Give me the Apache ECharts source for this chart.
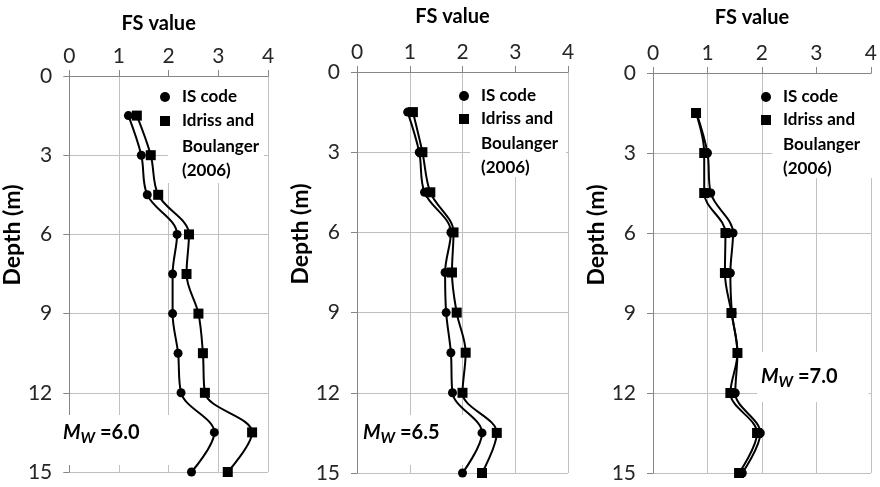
<!DOCTYPE html>
<html><head><meta charset="utf-8">
<script src="https://cdn.jsdelivr.net/npm/echarts@6/dist/echarts.min.js"></script>
<style>html,body{margin:0;padding:0;background:#fff}#c{width:880px;height:487px}</style>
</head><body><div id="c"></div>
<script>
// ---- data ----
const depths = [1.5, 3, 4.5, 6, 7.5, 9, 10.5, 12, 13.5, 15];
const isCodeMw60 = [1.19, 1.45, 1.57, 2.17, 2.08, 2.08, 2.19, 2.25, 2.92, 2.46];
const idrissMw60 = [1.36, 1.64, 1.79, 2.41, 2.36, 2.60, 2.69, 2.73, 3.68, 3.19];
const isCodeMw65 = [0.96, 1.18, 1.28, 1.78, 1.67, 1.69, 1.78, 1.81, 2.37, 2.00];
const idrissMw65 = [1.06, 1.24, 1.39, 1.83, 1.80, 1.89, 2.06, 2.00, 2.65, 2.37];
const isCodeMw70 = [0.80, 1.00, 1.06, 1.47, 1.42, 1.45, 1.55, 1.51, 1.97, 1.64];
const idrissMw70 = [0.79, 0.94, 0.94, 1.33, 1.32, 1.44, 1.55, 1.42, 1.91, 1.58];
const magnitudes = ['6.0', '6.5', '7.0'];
const seriesNames = ['IS code', 'Idriss and Boulanger (2006)'];
const legendLines = ['Idriss and', 'Boulanger', '(2006)'];
const fsTicks = [0, 1, 2, 3, 4];
const depthTicks = [0, 3, 6, 9, 12, 15];
const xAxisTitle = 'FS value';
const yAxisTitle = 'Depth (m)';

// ---- layout / style ----
const FONT = 'Lato, "Open Sans", "DejaVu Sans", sans-serif';
const grids = [
  {left: 58, top: 76, width: 210, height: 396},
  {left: 357, top: 72, width: 211, height: 401},
  {left: 653, top: 73, width: 221, height: 400}
];
const xNameGaps = [42, 45, 45];
const yNameShift = [78, 77, 76];
const legendPos = [
  {left: 160, top: 86, gap: 2, textX: 182, textY: 135},
  {left: 459, top: 85, gap: 1, textX: 481, textY: 132},
  {left: 761, top: 86, gap: 1, textX: 783, textY: 133}
];
const legendBoxes = [
  {x: 168, y: 77, width: 96, height: 106},
  {x: 470, y: 73, width: 96, height: 104},
  {x: 772, y: 74, width: 100, height: 104}
];
const mwLabels = [
  {x: 59, y: 415, padding: [5, 30, 19, 4]},
  {x: 359, y: 415, padding: [5, 30, 19, 4]},
  {x: 757, y: 352, padding: [12, 31, 12, 4]}
];
const panelData = [
  [isCodeMw60, idrissMw60],
  [isCodeMw65, idrissMw65],
  [isCodeMw70, idrissMw70]
];

const axisGray = '#868686';
const gridGray = '#c0c0c0';

const xAxes = [], yAxes = [], series = [], legends = [], graphics = [];
grids.forEach((g, i) => {
  xAxes.push({
    type: 'value', gridIndex: i, position: 'top',
    min: fsTicks[0], max: fsTicks[fsTicks.length - 1], interval: fsTicks[1] - fsTicks[0],
    name: xAxisTitle, nameLocation: 'middle', nameGap: xNameGaps[i],
    nameTextStyle: {fontFamily: FONT, fontWeight: 'bold', fontSize: 20, color: '#000', padding: [0, 20, 0, 0]},
    axisLine: {show: true, onZero: false, lineStyle: {color: axisGray, width: 1}},
    axisTick: {show: true, length: 6, lineStyle: {color: axisGray}},
    axisLabel: {fontFamily: FONT, fontSize: 21, color: '#262626', margin: 9},
    splitLine: {show: true, lineStyle: {color: gridGray, width: 1}}
  });
  yAxes.push({
    type: 'value', gridIndex: i, inverse: true,
    min: depthTicks[0], max: depthTicks[depthTicks.length - 1], interval: depthTicks[1] - depthTicks[0],
    name: yAxisTitle, nameLocation: 'middle', nameGap: 25,
    nameTextStyle: {fontFamily: FONT, fontWeight: 'bold', fontSize: 23, color: '#000', padding: [0, 0, 0, yNameShift[i]]},
    axisLine: {show: true, onZero: false, lineStyle: {color: axisGray, width: 1}},
    axisTick: {show: true, length: 6, lineStyle: {color: axisGray}},
    axisLabel: {fontFamily: FONT, fontSize: 21, color: '#262626', margin: 17},
    splitLine: {show: true, lineStyle: {color: gridGray, width: 1}}
  });
  const [isv, ibv] = panelData[i];
  series.push({
    type: 'line', name: seriesNames[0], xAxisIndex: i, yAxisIndex: i,
    data: isv.map((v, k) => [v, depths[k]]),
    symbol: 'circle', symbolSize: 9, smooth: 0.35,
    lineStyle: {color: '#000', width: 2}, itemStyle: {color: '#000'}, z: 3
  });
  series.push({
    type: 'line', name: seriesNames[1], xAxisIndex: i, yAxisIndex: i,
    data: ibv.map((v, k) => [v, depths[k]]),
    symbol: 'rect', symbolSize: 10, smooth: 0.35,
    lineStyle: {color: '#000', width: 2}, itemStyle: {color: '#000'}, z: 3
  });
  const lp = legendPos[i];
  legends.push({
    orient: 'vertical', left: lp.left, top: lp.top, padding: 0,
    itemWidth: 10, itemHeight: 10, itemGap: lp.gap, selectedMode: false,
    textStyle: {fontFamily: FONT, fontWeight: 'bold', fontSize: 17, color: '#000', lineHeight: 22, padding: [0, 0, 0, 7]},
    formatter: n => n === seriesNames[1] ? legendLines[0] : n,
    data: [
      {name: seriesNames[0], icon: 'circle'},
      {name: seriesNames[1], icon: 'rect'}
    ]
  });
  const b = legendBoxes[i];
  graphics.push({type: 'rect', z: 1, shape: {x: b.x, y: b.y, width: b.width, height: b.height}, style: {fill: '#fff'}});
  graphics.push({
    type: 'text', z: 5, x: lp.textX, y: lp.textY,
    style: {
      text: legendLines.slice(1).join('\n'),
      align: 'left', verticalAlign: 'top', lineHeight: 23.5,
      fontFamily: FONT, fontSize: 17, fontWeight: 'bold', fill: '#000'
    }
  });
  const m = mwLabels[i];
  graphics.push({
    type: 'text', z: 1, x: m.x, y: m.y,
    style: {
      text: '{m|M}{w|W}{t| =' + magnitudes[i] + '}',
      align: 'left', verticalAlign: 'top',
      backgroundColor: '#fff', padding: m.padding,
      fontFamily: FONT, fontSize: 20, fill: '#000',
      rich: {
        m: {fontFamily: FONT, fontSize: 20, fontStyle: 'italic', fontWeight: 'bold', lineHeight: 26, fill: '#000'},
        w: {fontFamily: FONT, fontSize: 15, fontStyle: 'italic', fontWeight: 'bold', lineHeight: 16, verticalAlign: 'bottom', fill: '#000'},
        t: {fontFamily: FONT, fontSize: 20, fontWeight: 'bold', lineHeight: 26, fill: '#000'}
      }
    }
  });
});

const chart = echarts.init(document.getElementById('c'), null, {renderer: 'canvas'});
chart.setOption({
  animation: false,
  backgroundColor: '#fff',
  grid: grids,
  xAxis: xAxes,
  yAxis: yAxes,
  legend: legends,
  series: series,
  graphic: graphics
});
</script>
</body></html>
